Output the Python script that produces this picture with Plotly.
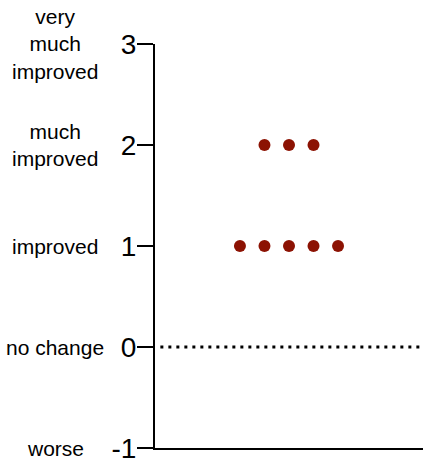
import plotly.graph_objects as go
from collections import Counter

# data
scores = [2, 2, 2, 1, 1, 1, 1, 1]
tick_values = [-1, 0, 1, 2, 3]
tick_text = ["-1", "0", "1", "2", "3"]
category_labels = ["worse", "no change", "improved", "much<br>improved", "very<br>much<br>improved"]

# beeswarm-like horizontal spread of identical values
spacing = 0.183
counts = Counter(scores)
seen = Counter()
xs = []
for v in scores:
    n = counts[v]
    i = seen[v]
    seen[v] += 1
    xs.append((i - (n - 1) / 2) * spacing)

FONT = "Arial, Liberation Sans, Helvetica, sans-serif"

fig = go.Figure()
fig.add_trace(go.Scatter(
    x=xs, y=scores, mode="markers",
    marker=dict(size=12, color="#8c1203", line=dict(width=0)),
    showlegend=False, hoverinfo="skip", cliponaxis=False,
))

fig.add_shape(type="line", xref="paper", yref="y", x0=0.02, x1=1, y0=0, y1=0,
              line=dict(color="black", width=3, dash="3px,5px"))

for val, lab in zip(tick_values, category_labels):
    fig.add_annotation(x=0, xref="paper", y=val, yref="y", text=lab,
                       showarrow=False, xanchor="center", yanchor="middle",
                       xshift=-100, font=dict(family=FONT, size=21, color="black"))

fig.update_layout(
    width=423, height=461,
    margin=dict(l=155, r=0, t=44, b=13, autoexpand=False),
    plot_bgcolor="white", paper_bgcolor="white",
    font=dict(family=FONT, color="black"),
    xaxis=dict(range=[-1, 1], showline=True, linecolor="black", linewidth=2,
               showgrid=False, zeroline=False, showticklabels=False, ticks="",
               automargin=False),
    yaxis=dict(range=[-1, 3], showline=True, linecolor="black", linewidth=2,
               showgrid=False, zeroline=False, tickmode="array",
               tickvals=tick_values, ticktext=tick_text, ticks="outside",
               ticklen=16, tickwidth=2, tickcolor="black", ticklabelstandoff=-5,
               ticklabeloverflow="allow", automargin=False,
               tickfont=dict(family=FONT, size=28, color="black")),
)

fig.write_html("out.html", config={"displayModeBar": False},
               post_script="document.body.style.margin='0';document.body.style.overflow='hidden';")
